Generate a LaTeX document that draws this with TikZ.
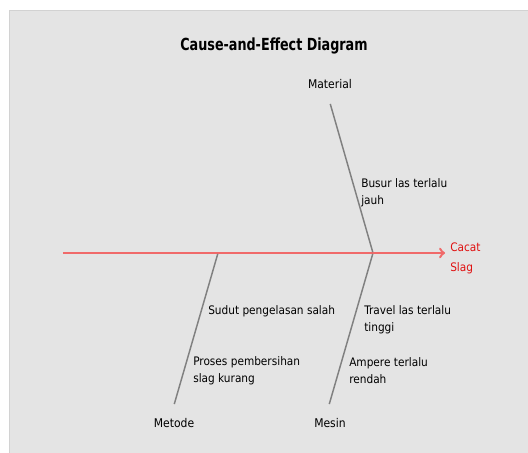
\documentclass[tikz,border=0pt]{standalone}
\usepackage{fontspec}
\setmainfont{DejaVu Sans Condensed}
\newfontfamily\titlefont[FakeStretch=0.85]{DejaVu Sans Condensed}
\usepackage{xcolor}
\definecolor{panel}{HTML}{E4E4E4}
\definecolor{panelline}{HTML}{D2D2D2}
\definecolor{spine}{HTML}{F06A6A}
\definecolor{effect}{HTML}{E01010}
\definecolor{bone}{HTML}{808080}

\begin{document}
\begin{tikzpicture}[x=0.75pt,y=-0.75pt,
    cause/.style={inner sep=0pt,align=left,anchor=west,font=\fontsize{8.8}{12.75}\selectfont},
    cat/.style={inner sep=0pt,font=\fontsize{9}{11}\selectfont}]
            \useasboundingbox (0,0) rectangle (528,453);
            \fill[panel] (9,10) rectangle (528,453);
            \draw[panelline] (9,453) -- (9,10) -- (528,10);

            \node (title) at (274,46) [font=\titlefont\bfseries\fontsize{12.5}{14}\selectfont] {Cause-and-Effect Diagram};

            \node (tail) at (62,253) [inner sep=0pt] {};
            \node (head) at (446,253) [inner sep=0pt] {};
            \node (ja) at (373,253) [inner sep=0pt] {};
            \node (jb) at (218,253) [inner sep=0pt] {};

            \node (m1) at (330,103) [inner sep=0pt] {};
            \node (m2) at (329,405) [inner sep=0pt] {};
            \node (m3) at (174,405) [inner sep=0pt] {};

            \node (material) at (330,84) [cat] {Material};
            \node (mesin) at (330,423) [cat] {Mesin};
            \node (metode) at (174,423) [cat] {Metode};
            \node (effect) at (450,258) [cause,text=effect,font=\fontsize{8.8}{15}\selectfont] {Cacat\\Slag};

            \node (busur) at (361,193) [cause] {Busur las terlalu\\jauh};
            \node (sudut) at (208,311) [cause] {Sudut pengelasan salah};
            \node (proses) at (193,371) [cause] {Proses pembersihan\\slag kurang};
            \node (travel) at (364,320) [cause] {Travel las terlalu\\tinggi};
            \node (ampere) at (349,371) [cause] {Ampere terlalu\\rendah};

            \draw[spine,line width=1.8pt,-to] (tail) -- (head);
            \draw[bone,line width=1.1pt] (m1) -- (ja) (ja) -- (m2) (jb) -- (m3);

        \end{tikzpicture}
\end{document}
